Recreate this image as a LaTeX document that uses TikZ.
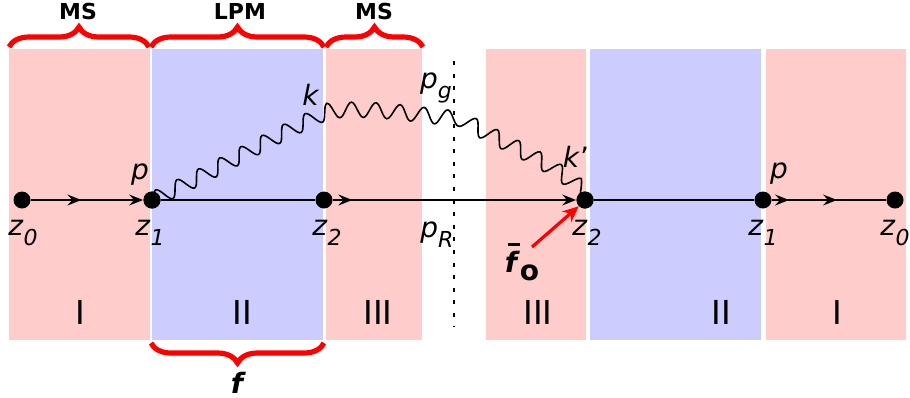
\documentclass[tikz,border=0pt]{standalone}
\usepackage{fontspec}
\setmainfont{DejaVu Sans}
\usetikzlibrary{arrows.meta,positioning}
\usetikzlibrary{decorations.pathmorphing,decorations.pathreplacing,decorations.markings}
\definecolor{msColor}{RGB}{255,204,204}
\definecolor{lpmColor}{RGB}{204,204,255}
\newcommand{\vsub}[2]{\textit{#1}\raisebox{-5pt}{\fontsize{11}{11}\selectfont\textit{#2}}}
\newcommand{\barf}{\makebox[0pt][l]{\hspace{1.5pt}\raisebox{13pt}{\rule{6pt}{1.6pt}}}\textit{f}}
\tikzset{
    vertex/.style={
        ,   circle
        ,   fill=black
        ,   inner sep=0pt
        ,   minimum size=8.5pt
    },
    msRegion/.style={fill=msColor, draw=none},
    lpmRegion/.style={fill=lpmColor, draw=none},
    lbl/.style={
        ,   inner sep=0pt
        ,   anchor=base
        ,   font=\fontsize{14}{14}\selectfont
    },
    roman/.style={
        ,   inner sep=0pt
        ,   anchor=base
        ,   font=\fontsize{16.5}{16.5}\selectfont
    },
    region/.style={
        ,   inner sep=0pt
        ,   anchor=base
        ,   font=\fontsize{11}{11}\selectfont\bfseries
    },
    fermion/.style={
        ,   line width=0.8pt
        ,   postaction={decorate}
    },
    photon/.style={
        ,   line width=0.8pt
        ,   decorate
        ,   decoration={snake, amplitude=3.8pt, segment length=12pt}
    },
    redBrace/.style={
        ,   red
        ,   line width=2.6pt
        ,   decorate
        ,   decoration={brace, amplitude=10pt}
    },
    forceArrow/.style={
        ,   red
        ,   line width=1.6pt
        ,   -{Stealth[length=8pt, width=7pt, inset=2.5pt]}
    },
    >={Stealth[length=7pt, width=5.5pt, inset=2.5pt]}
}

\begin{document}
\begin{tikzpicture}[x=0.5pt, y=-0.5pt]
\useasboundingbox (0,0) rectangle (910,397);

% regions, left side
\fill[msRegion] (9,49) rectangle (150,340);
\fill[lpmRegion] (152,49) rectangle (323,340);
\fill[msRegion] (326,49) rectangle (422,340);
% regions, right side
\fill[msRegion] (486,49) rectangle (586,340);
\fill[lpmRegion] (590,49) rectangle (761,340);
\fill[msRegion] (766,49) rectangle (906,340);

\draw[line width=1pt, dash pattern=on 2pt off 4.3pt] (454,61) -- (454,326);

% vertices
\node[vertex] (z0) at (22,200) {};
\node[vertex] (z1) at (152,200) {};
\node[vertex] (z2) at (324,200) {};
\node[vertex] (rz2) at (585,200) {};
\node[vertex] (rz1) at (763,200) {};
\node[vertex] (rz0) at (895,200) {};

\draw[fermion, ->, decoration={markings, mark=at position 0.45 with {\arrow{>}}}] (z0) -- (z1);
\draw[line width=0.8pt] (z1) -- (z2);
\draw[fermion, ->, decoration={markings, mark=at position 0.08 with {\arrow{>}}}] (z2) -- (rz2);
\draw[line width=0.8pt] (rz2) -- (rz1);
\draw[fermion, decoration={markings,
    mark=at position 0.15 with {\arrow{>}},
    mark=at position 0.57 with {\arrow{>}}}] (rz1) -- (rz0);

% gluon
\coordinate (kv) at (322,114);
\coordinate (gv) at (452,121);
\draw[photon] (z1.center) to[out=25,in=205] (kv) to[out=5,in=175] (gv)
  to[out=-30,in=140] (rz2.center);
\foreach \v in {z1,rz2}{
  \node[vertex] at (\v) {};
}

% labels
\node[lbl] (lz0) at (23,235) {\vsub{z}{0}};
\node[lbl] (lz1) at (150,235) {\vsub{z}{1}};
\node[lbl] (lz2) at (327,235) {\vsub{z}{2}};
\node[lbl] (lpR) at (437,237) {\vsub{p}{R}};
\node[lbl] (lrz2) at (587,235) {\vsub{z}{2}};
\node[lbl] (lrz1) at (763,235) {\vsub{z}{1}};
\node[lbl] (lrz0) at (895,235) {\vsub{z}{0}};
\node[lbl] (lp) at (140,179) {\textit{p}};
\node[lbl] (lrp) at (779,178) {\textit{p}};
\node[lbl] (lk) at (311,105) {\textit{k}};
\node[lbl] (lpg) at (436,88) {\vsub{p}{g}};
\node[lbl] (lkp) at (576,167) {\textit{k}'};

\foreach \x/\r [count=\i] in {80/I,242/II,378/III,538/III,721/II,837/I}{
  \node[roman] (num\i) at (\x,324) {\r};
}

% braces
\draw[redBrace] (9,47) -- (149,47);
\draw[redBrace] (151,47) -- (324,47);
\draw[redBrace] (326,47) -- (423,47);
\draw[redBrace] (324,343) -- (151,343);
\node[region] (ms1) at (78,19) {MS};
\node[region] (lpm) at (240,19) {LPM};
\node[region] (ms2) at (374,19) {MS};
\node[lbl, font=\fontsize{14}{14}\selectfont\bfseries\itshape] (lf) at (237,393) {f};

% force arrow
\coordinate (fTail) at (532,247);
\draw[forceArrow] (fTail) -- (rz2.south west);
\node[lbl, font=\fontsize{14}{14}\selectfont\bfseries] (lf0) at (522,272) {\barf\raisebox{-4pt}{o}};
\end{tikzpicture}
\end{document}
